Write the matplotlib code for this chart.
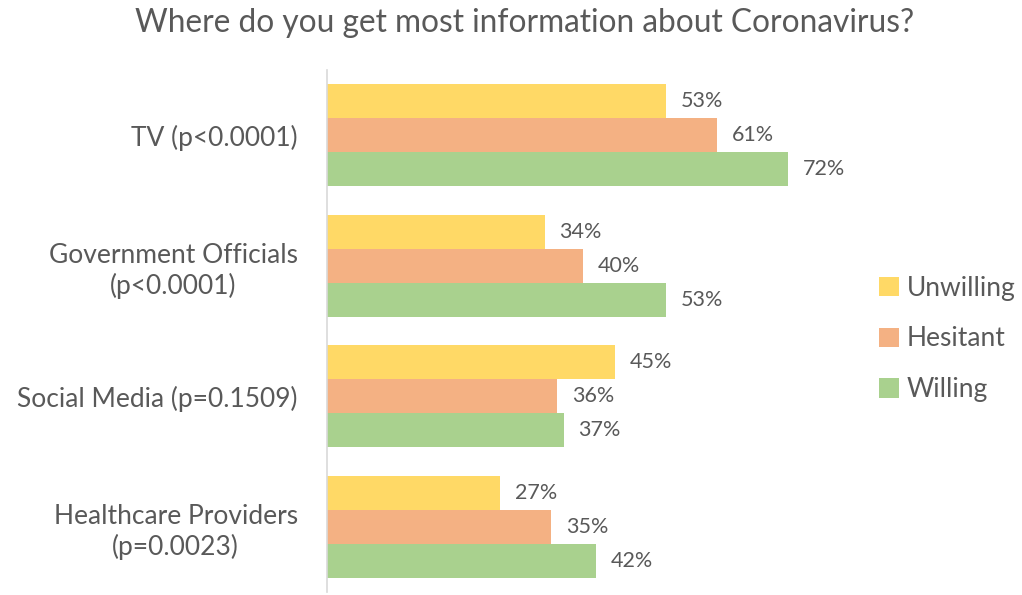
import matplotlib
matplotlib.use("Agg")
import matplotlib.pyplot as plt
import numpy as np

categories = ["TV (p<0.0001)", "Government Officials\n(p<0.0001)",
              "Social Media (p=0.1509)", "Healthcare Providers\n(p=0.0023)"]
series = ["Unwilling", "Hesitant", "Willing"]
unwilling = [53, 34, 45, 27]
hesitant = [61, 40, 36, 35]
willing = [72, 53, 37, 42]
colors = ["#FFD966", "#F4B183", "#A9D18E"]
title = "Where do you get most information about Coronavirus?"

plt.rcParams['font.family'] = ['Lato', 'DejaVu Sans']
txt = "#595959"

fig = plt.figure(figsize=(10.22, 5.95), dpi=100)
ax = fig.add_axes([327/1022, 3/595, 640/1022, 522/595])

y = np.arange(len(categories))
h = 0.26
for i, (name, vals, c) in enumerate(zip(series, [unwilling, hesitant, willing], colors)):
    pos = y + (i - 1) * h
    bars = ax.barh(pos, vals, height=h, color=c, label=name)
    for b, v in zip(bars, vals):
        ax.text(v + 2.3, b.get_y() + b.get_height() / 2, f"{v}%", va="center",
                ha="left", fontsize=15.5, color=txt)

ax.set_xlim(0, 100)
ax.set_ylim(3.5, -0.5)
ax.set_yticks(y)
ax.set_yticklabels(categories, fontsize=19, color=txt, multialignment="center",
                   linespacing=1.25)
ax.tick_params(axis="y", length=0, pad=21)
ax.set_xticks([])
for s in ["top", "right", "bottom"]:
    ax.spines[s].set_visible(False)
ax.spines["left"].set_color("#D9D9D9")
ax.spines["left"].set_linewidth(1.2)

fig.text(0.513, 0.962, title, ha="center", va="center", fontsize=22.8, color=txt)

leg = fig.legend(loc="center left", bbox_to_anchor=(855/1022, 1 - 339/595),
                 frameon=False, fontsize=19, handlelength=0.75, handleheight=0.75,
                 handletextpad=0.3, labelspacing=0.98)
for t in leg.get_texts():
    t.set_color(txt)

fig.savefig("out.png", dpi=100)
